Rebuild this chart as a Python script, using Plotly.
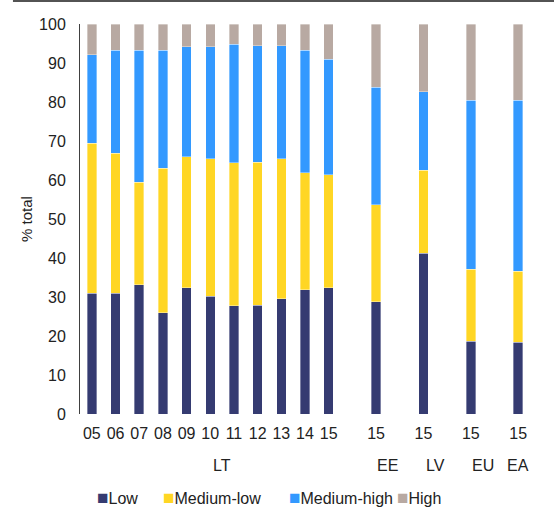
import plotly.graph_objects as go

# Lithuania, 2005-2015, share of manufacturing by technology intensity (% of total)
lt_years = ["05", "06", "07", "08", "09", "10", "11", "12", "13", "14", "15"]
lt_low = [30.9, 30.9, 33.2, 26.0, 32.4, 30.2, 27.7, 27.9, 29.6, 31.8, 32.4]
lt_medium_low = [38.5, 35.9, 26.2, 37.0, 33.6, 35.3, 36.7, 36.7, 35.9, 30.1, 28.9]
lt_medium_high = [22.7, 26.5, 33.9, 30.3, 28.2, 28.7, 30.4, 29.8, 28.9, 31.4, 29.6]
lt_high = [7.9, 6.7, 6.7, 6.7, 5.8, 5.8, 5.2, 5.6, 5.6, 6.7, 9.1]

# Comparison economies, 2015
cmp_regions = ["EE", "LV", "EU", "EA"]
cmp_year = "15"
cmp_low = [28.8, 41.2, 18.6, 18.4]
cmp_medium_low = [24.8, 21.3, 18.5, 18.2]
cmp_medium_high = [30.2, 20.1, 43.3, 43.8]
cmp_high = [16.2, 17.4, 19.6, 19.6]

series_names = ["Low", "Medium-low", "Medium-high", "High"]
series_colors = ["#353B71", "#FFD624", "#3399FF", "#B8A9A2"]

# Category slots: each group is followed by an empty slot, except the last one
lt_series = [lt_low, lt_medium_low, lt_medium_high, lt_high]
cmp_series = [cmp_low, cmp_medium_low, cmp_medium_high, cmp_high]

slot_labels = []      # tick text per slot
slot_values = [[] for _ in series_names]
group_slots = {}      # group name -> list of slot indices it spans

def add_slot(group, label, vals):
    idx = len(slot_labels)
    slot_labels.append(label)
    group_slots.setdefault(group, []).append(idx)
    for k in range(len(series_names)):
        slot_values[k].append(vals[k] if vals is not None else None)

for i, y in enumerate(lt_years):
    add_slot("LT", y, [s[i] for s in lt_series])
add_slot("LT", "", None)
for j, r in enumerate(cmp_regions):
    add_slot(r, cmp_year, [s[j] for s in cmp_series])
    if j < len(cmp_regions) - 1:
        add_slot(r, "", None)

slots = list(range(len(slot_labels)))
bar_slots = [i for i in slots if slot_labels[i] != ""]

fig = go.Figure()
for name, color, vals in zip(series_names, series_colors, slot_values):
    fig.add_trace(go.Bar(
        x=slots, y=vals, name=name,
        marker=dict(color=color, line=dict(color="rgba(255,255,255,0.6)", width=0.6)),
        width=0.4, showlegend=False,
    ))

font_family = "Liberation Sans, Arial, sans-serif"
text_color = "#222222"

annotations = []
# Group labels centred under the slots each group spans
for g, idx in group_slots.items():
    annotations.append(dict(
        x=sum(idx) / len(idx), y=-0.1333, xref="x", yref="paper",
        text=g, showarrow=False, xanchor="center", yanchor="middle",
        font=dict(size=16, color=text_color),
    ))

# Legend row
legend_x = [0.033, 0.179, 0.46, 0.70]
for name, color, lx in zip(series_names, series_colors, legend_x):
    annotations.append(dict(
        x=lx, y=-0.213, xref="paper", yref="paper", xanchor="left", yanchor="middle",
        text=f"<span style='color:{color};font-size:19px'>■</span>{name}",
        showarrow=False, font=dict(size=16, color=text_color),
    ))

fig.update_layout(
    barmode="stack",
    width=554, height=509,
    margin=dict(l=80, r=24, t=24, b=95),
    paper_bgcolor="white", plot_bgcolor="white",
    font=dict(family=font_family, size=16, color=text_color),
    showlegend=False,
    xaxis=dict(
        range=[-0.5, len(slots) - 0.5], showgrid=False, showline=False, zeroline=False,
        ticks="", tickmode="array", tickvals=bar_slots,
        ticktext=[slot_labels[i] for i in bar_slots],
        tickfont=dict(size=16, color=text_color), ticklabelstandoff=8,
        automargin=False,
    ),
    yaxis=dict(
        range=[0, 100], dtick=10, showgrid=False, showline=True,
        linecolor="#404040", linewidth=1, ticks="", zeroline=False,
        tickfont=dict(size=16, color=text_color), ticklabelstandoff=10,
        title=dict(text="% total", font=dict(size=15, color=text_color), standoff=2),
        automargin=False,
    ),
    annotations=annotations,
    shapes=[dict(
        type="line", xref="paper", yref="paper",
        x0=-0.149, x1=1.06, y0=1.059, y1=1.059,
        line=dict(color="#1a1a1a", width=1.5),
    )],
)

fig.write_html("out.html")
